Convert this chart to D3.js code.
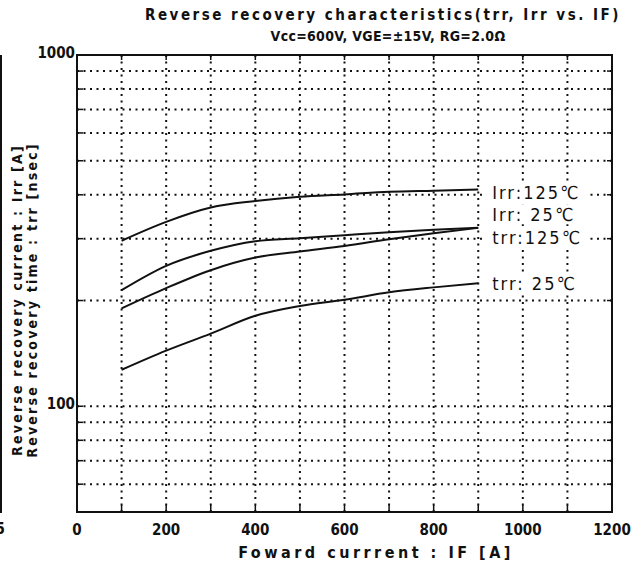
<!DOCTYPE html>
<html><head><meta charset="utf-8">
<script src="https://cdn.jsdelivr.net/npm/d3@7"></script>
<style>
body{margin:0;background:#fff;}
svg text{font-family:"DejaVu Sans Condensed","Liberation Sans Narrow","Noto Sans CJK JP",sans-serif;fill:#111;}
</style></head>
<body><svg id="c" width="641" height="571"></svg>
<script>
const xValues = [100, 200, 300, 400, 500, 600, 700, 800, 900];
const irr125 = [296, 335, 368, 384, 395, 401, 408, 411, 414];
const irr25  = [214, 251, 277, 295, 301, 307, 313, 318, 322];
const trr125 = [190, 217, 244, 265, 276, 286, 299, 311, 322];
const trr25  = [127, 144, 161, 181, 193, 201, 211, 218, 224];
const seriesNames = ["Irr:125\u2103", "Irr: 25\u2103", "trr:125\u2103", "trr: 25\u2103"];
const labelValues = [407, 352, 303, 223];
const xTicks = [0, 200, 400, 600, 800, 1000, 1200];
const xGrid = [100, 200, 300, 400, 500, 600, 700, 800, 900, 1000, 1100];
const yGrid = [60, 70, 80, 90, 100, 200, 300, 400, 500, 600, 700, 800, 900];
const yTicks = [100, 1000];

const svg = d3.select("#c");
const L = 77, R = 612, T = 55, B = 512;
const x = d3.scaleLinear().domain([0, 1200]).range([L, R]);
const y = d3.scaleLog().domain([50, 1000]).range([B, T]);

// neighbour frame fragment on the far left
svg.append("line").attr("x1", 1).attr("x2", 1).attr("y1", 55).attr("y2", 513)
  .attr("stroke", "#111").attr("stroke-width", 2);
svg.append("text").attr("x", 5).attr("y", 534).attr("text-anchor", "end")
  .attr("font-size", 15).attr("font-weight", "bold").text("5");

const g = svg.append("g");
// grid
g.selectAll(".vg").data(xGrid).join("line")
  .attr("x1", d => x(d)).attr("x2", d => x(d)).attr("y1", T).attr("y2", B)
  .attr("stroke", "#111").attr("stroke-width", 2).attr("stroke-dasharray", "2,4.5");
g.selectAll(".hg").data(yGrid).join("line")
  .attr("x1", L).attr("x2", R).attr("y1", d => y(d)).attr("y2", d => y(d))
  .attr("stroke", "#111").attr("stroke-width", 2).attr("stroke-dasharray", "2,4.5");

// inward ticks
g.selectAll(".tb").data(xGrid).join("line")
  .attr("x1", d => x(d)).attr("x2", d => x(d)).attr("y1", B).attr("y2", B - 7)
  .attr("stroke", "#111").attr("stroke-width", 1.5);
g.selectAll(".tt").data(xGrid).join("line")
  .attr("x1", d => x(d)).attr("x2", d => x(d)).attr("y1", T).attr("y2", T + 5)
  .attr("stroke", "#111").attr("stroke-width", 1.5);
g.selectAll(".tl").data(yGrid).join("line")
  .attr("x1", L).attr("x2", L + 6).attr("y1", d => y(d)).attr("y2", d => y(d))
  .attr("stroke", "#111").attr("stroke-width", 1.5);
g.selectAll(".tr").data(yGrid).join("line")
  .attr("x1", R).attr("x2", R - 5).attr("y1", d => y(d)).attr("y2", d => y(d))
  .attr("stroke", "#111").attr("stroke-width", 1.5);

// curves
const all = [irr125, irr25, trr125, trr25];
const line = d3.line().x((d, i) => x(xValues[i])).y(d => y(d)).curve(d3.curveMonotoneX);
g.selectAll(".curve").data(all).join("path")
  .attr("d", d => line(d)).attr("fill", "none").attr("stroke", "#111").attr("stroke-width", 2);

// series labels with white background
const lab = g.selectAll(".lab").data(seriesNames).join("g")
  .attr("transform", (d, i) => `translate(${x(900) + 14},${y(labelValues[i])})`);
lab.append("rect").attr("x", -8).attr("y", -10).attr("width", 104).attr("height", 20).attr("fill", "#fff");
lab.append("text").attr("x", 0).attr("y", 6.5).attr("font-size", 18).attr("letter-spacing", 2)
  .text(d => d);

// frame
svg.append("rect").attr("x", L).attr("y", T).attr("width", R - L).attr("height", B - T)
  .attr("fill", "none").attr("stroke", "#111").attr("stroke-width", 2);

// axis labels
svg.selectAll(".xt").data(xTicks).join("text")
  .attr("x", d => x(d)).attr("y", 535).attr("text-anchor", "middle")
  .attr("font-size", 15).attr("font-weight", "bold").text(d => d);
svg.selectAll(".yt").data(yTicks).join("text")
  .attr("x", L - 2).attr("y", d => y(d) + 3).attr("text-anchor", "end")
  .attr("font-size", 15).attr("font-weight", "bold").text(d => d);

// titles
svg.append("text").attr("x", 383).attr("y", 20).attr("text-anchor", "middle")
  .attr("font-size", 15).attr("font-weight", "bold").attr("letter-spacing", 2.5)
  .text("Reverse recovery characteristics(trr, Irr vs.  IF)");
svg.append("text").attr("x", 388).attr("y", 41).attr("text-anchor", "middle")
  .attr("font-size", 14).attr("font-weight", "bold").attr("letter-spacing", 0.3)
  .text("Vcc=600V, VGE=\u00b115V, RG=2.0\u03a9");
svg.append("text").attr("x", 376).attr("y", 558).attr("text-anchor", "middle")
  .attr("font-size", 16).attr("font-weight", "bold").attr("letter-spacing", 3.5)
  .text("Foward currrent : IF [A]");
svg.append("text").attr("transform", "translate(22,300) rotate(-90)").attr("text-anchor", "middle")
  .attr("font-size", 14).attr("font-weight", "bold").attr("letter-spacing", 2.2)
  .text("Reverse recovery current : Irr [A]");
svg.append("text").attr("transform", "translate(37,300) rotate(-90)").attr("text-anchor", "middle")
  .attr("font-size", 14).attr("font-weight", "bold").attr("letter-spacing", 2.2)
  .text("Reverse recovery time : trr [nsec]");
</script></body></html>
